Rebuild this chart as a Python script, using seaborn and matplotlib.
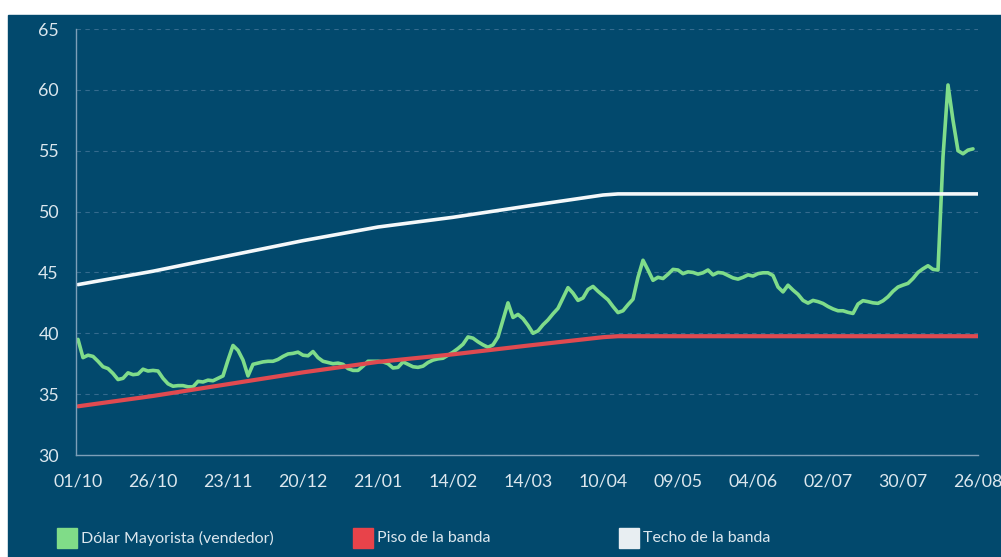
import matplotlib.pyplot as plt
import matplotlib.patches as mpatches
import numpy as np
import pandas as pd
import seaborn as sns

# fechas del eje (una marca cada 15 ruedas)
tick_labels = ['01/10', '26/10', '23/11', '20/12', '21/01', '14/02', '14/03',
               '10/04', '09/05', '04/06', '02/07', '30/07', '26/08']

# Dolar mayorista (vendedor)
dolar = [
    39.5, 38.0, 38.2, 38.1, 37.7, 37.25, 37.1, 36.7, 36.2, 36.3,
    36.75, 36.6, 36.65, 37.05, 36.9, 36.95, 36.9, 36.3, 35.85, 35.65,
    35.7, 35.7, 35.6, 35.6, 36.05, 36.0, 36.15, 36.1, 36.3, 36.5,
    37.8, 39.0, 38.6, 37.8, 36.5, 37.45, 37.55, 37.65, 37.7, 37.7,
    37.85, 38.1, 38.3, 38.35, 38.45, 38.2, 38.15, 38.5, 38.0, 37.7,
    37.6, 37.5, 37.55, 37.45, 37.1, 36.95, 36.95, 37.3, 37.7, 37.7,
    37.7, 37.65, 37.5, 37.15, 37.2, 37.65, 37.45, 37.25, 37.2, 37.3,
    37.6, 37.8, 37.9, 37.95, 38.2, 38.45, 38.75, 39.1, 39.7, 39.6,
    39.3, 39.05, 38.85, 39.05, 39.7, 41.1, 42.5, 41.3, 41.55, 41.2,
    40.65, 40.0, 40.2, 40.7, 41.1, 41.6, 42.05, 42.9, 43.75, 43.3,
    42.7, 42.9, 43.6, 43.85, 43.45, 43.1, 42.75, 42.2, 41.7, 41.85,
    42.35, 42.8, 44.6, 46.0, 45.2, 44.35, 44.6, 44.5, 44.85, 45.25,
    45.2, 44.9, 45.05, 45.0, 44.86, 44.97, 45.2, 44.8, 45.0, 44.95,
    44.75, 44.55, 44.45, 44.6, 44.8, 44.7, 44.9, 44.97, 44.97, 44.75,
    43.8, 43.4, 43.95, 43.55, 43.2, 42.7, 42.48, 42.7, 42.6, 42.45,
    42.2, 42.0, 41.85, 41.85, 41.72, 41.63, 42.4, 42.68, 42.6, 42.5,
    42.46, 42.67, 43.0, 43.45, 43.8, 43.96, 44.1, 44.5, 45.0, 45.3,
    45.55, 45.25, 45.2, 54.5, 60.4, 57.5, 55.0, 54.75, 55.05, 55.15,
]

# piso y techo de la banda (vertices)
band_days = [0, 15, 30, 45, 60, 75, 90, 105, 108, 180]
piso = [34.0, 34.85, 35.82, 36.79, 37.65, 38.27, 38.99, 39.68, 39.76, 39.76]
techo = [44.0, 45.1, 46.36, 47.61, 48.73, 49.53, 50.46, 51.36, 51.45, 51.45]

bg = '#02496d'
txt = '#dce7ee'
axis_col = '#7d9fb8'
green = '#7fdc8a'
red = '#e04a50'
white = '#f4f8fa'

df = pd.DataFrame({'dia': np.arange(len(dolar)), 'valor': dolar})
band = pd.DataFrame({'dia': band_days, 'piso': piso, 'techo': techo})

sns.set_style('white')
plt.rcParams['font.family'] = ['Lato', 'DejaVu Sans']

fig = plt.figure(figsize=(10.01, 5.57), dpi=100)
fig.patch.set_facecolor('white')
fig.patches.append(mpatches.Rectangle((8 / 1001, 0), 1, 542 / 557,
                                      transform=fig.transFigure,
                                      color=bg, zorder=-10))

ax = fig.add_axes([75.5 / 1001, 102 / 557, 902.5 / 1001, 426 / 557])
ax.set_facecolor(bg)

sns.lineplot(data=df, x='dia', y='valor', ax=ax, color=green, linewidth=2.6)
sns.lineplot(data=band, x='dia', y='piso', ax=ax, color=red, linewidth=3)
sns.lineplot(data=band, x='dia', y='techo', ax=ax, color=white, linewidth=2.6)

ax.set_xlim(-0.5, 180)
ax.set_ylim(30, 65)
ax.set_xticks(np.arange(0, 181, 15))
ax.set_xticklabels(tick_labels)
ax.set_yticks(np.arange(30, 66, 5))
ax.set_xlabel('')
ax.set_ylabel('')

ax.yaxis.grid(True, linestyle=(0, (4, 4)), color='#356b8e', linewidth=0.8)
ax.set_axisbelow(True)
for s in ['top', 'right']:
    ax.spines[s].set_visible(False)
for s in ['left', 'bottom']:
    ax.spines[s].set_color(axis_col)
    ax.spines[s].set_linewidth(1)

ax.tick_params(axis='both', direction='out', length=5, width=1,
               color=axis_col, labelcolor=txt, labelsize=12.8)
ax.tick_params(axis='y', pad=7)
ax.tick_params(axis='x', pad=8)

# leyenda abajo
legend_items = [('Dólar Mayorista (vendedor)', '#80dc88', 57),
                ('Piso de la banda', '#e8434a', 353),
                ('Techo de la banda', '#e8eef2', 619)]
for label, col, px in legend_items:
    fig.patches.append(mpatches.Rectangle((px / 1001, 9 / 557), 20 / 1001, 20 / 557,
                                          transform=fig.transFigure,
                                          color=col, zorder=2))
    fig.text((px + 24) / 1001, 19 / 557, label, color=txt, fontsize=11.5,
             va='center', ha='left')

fig.savefig('out.png', dpi=100, facecolor=fig.get_facecolor())
